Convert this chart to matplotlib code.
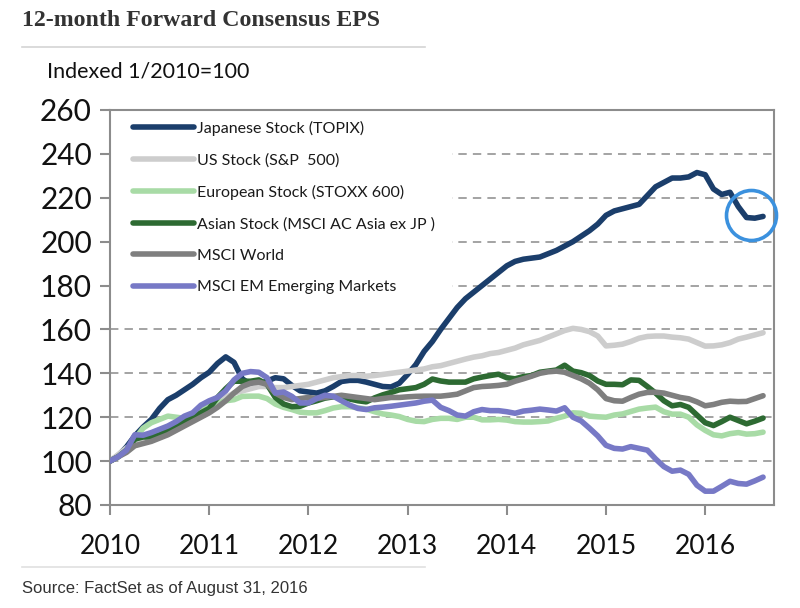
import matplotlib
matplotlib.use("Agg")
import matplotlib.pyplot as plt
import numpy as np
from matplotlib.patches import Rectangle

# ---------------- data ----------------
start_year = 2010
n_months = 80
years = [2010, 2011, 2012, 2013, 2014, 2015, 2016]
y_ticks = [80, 100, 120, 140, 160, 180, 200, 220, 240, 260]

labels = ["Japanese Stock (TOPIX)", "US Stock (S&P  500)", "European Stock (STOXX 600)",
          "Asian Stock (MSCI AC Asia ex JP )", "MSCI World", "MSCI EM Emerging Markets"]

topix = [100, 102.5, 106.5, 111.5, 115.5, 119, 124, 128, 130, 132.5, 135, 138,
         140.5, 144.5, 147.5, 145, 137.5, 135, 135, 136.5, 138, 137.5, 134.5, 132,
         131.5, 131, 132, 134, 136.3, 136.8, 136.8, 136, 135, 134, 133.8, 135.5,
         139.5, 144, 150, 154.5, 160, 165, 170, 174, 177, 180, 183, 186,
         189, 191, 192, 192.5, 193, 194.5, 196, 198, 200, 202.5, 205, 208,
         212, 214, 215, 216, 217, 221, 225, 227, 229, 229, 229.5, 231.5,
         230.5, 224, 221.5, 222.5, 216, 211, 210.7, 211.5]

sp500 = [100, 103, 106, 108, 109, 111, 113, 115, 117, 119, 121, 123,
         125, 127, 129, 131, 132, 133, 134, 134, 133.5, 133.5, 134, 134.5,
         135, 136, 137, 138, 138.5, 139, 139, 138.7, 139, 139.5, 140, 140.5,
         141, 141.5, 142, 143, 143.5, 144.5, 145.5, 146.5, 147.4, 148, 149, 149.5,
         150.5, 151.5, 153, 154, 155, 156.5, 158, 159.5, 160.5, 160, 159, 157,
         152.5, 152.8, 153.3, 154.5, 156, 156.8, 157, 157, 156.5, 156.2, 155.6, 154,
         152.4, 152.5, 153, 154, 155.6, 156.5, 157.5, 158.5]

europe = [100, 102, 105, 110, 115, 117.5, 119, 120.5, 120, 119.5, 121, 123,
          125, 126.5, 127.5, 128, 129.5, 129.6, 129.6, 128.5, 126, 124.5, 123.5, 122.3,
          122, 122, 123, 124.2, 124.8, 124.8, 124.3, 123.7, 122.5, 121.5, 121, 120.3,
          119, 118.2, 118, 119, 119.5, 119.5, 119, 120, 120, 118.8, 118.8, 119,
          118.7, 118, 117.8, 117.8, 118, 118.3, 119.5, 120.5, 122, 121.8, 120.5, 120.2,
          120, 121, 121.5, 122.6, 123.7, 124.2, 124.6, 122.5, 121.4, 121.4, 120, 116.5,
          114, 112, 111.5, 112.5, 113, 112.3, 112.5, 113.2]

asia = [100, 102, 105, 110, 111, 111, 112, 114, 116, 118, 120, 122,
        124, 129, 133, 136.4, 136.4, 136.4, 137, 135, 129, 126, 124.8, 125,
        126.5, 127.5, 128.7, 129.3, 129.3, 128.3, 127.5, 127, 128.8, 130.2, 131.3, 132.5,
        133, 133.5, 135, 137.4, 136.5, 136, 136, 136, 137.5, 138.3, 139, 139.6,
        138, 137.5, 138.5, 139, 140.5, 141, 141.5, 143.7, 141, 140.3, 139, 136.5,
        135, 135, 134.8, 137, 136.8, 134, 131, 127.5, 125.2, 125.8, 124.5, 121,
        117.5, 116.2, 118, 120, 118.5, 117, 118.2, 119.6]

world = [100, 102, 104, 107, 108, 109, 110.5, 112, 114, 116, 118, 120,
         122, 124.5, 127.5, 131, 134, 135.5, 136, 135, 131, 129, 128, 128.5,
         129, 128.5, 129, 129.5, 130, 129.5, 129, 128.5, 128, 128.5, 129, 129,
         129.3, 129.5, 129.6, 129.6, 129.6, 130, 130.5, 132, 133.5, 134, 134.2, 134.5,
         135, 136.4, 137.5, 138.7, 140, 140.7, 141, 140.5, 139, 137.5, 135.5, 132.5,
         128.5, 127.5, 127.3, 129, 130.5, 131.3, 131.4, 131, 130, 129, 128.4, 127,
         125.2, 125.8, 126.8, 127.3, 127.1, 127.2, 128.5, 129.8]

em = [100, 102, 105, 112, 111.8, 113, 114.5, 116, 118, 120.5, 122, 125.5,
      127.5, 129, 132, 137, 140, 140.8, 140.5, 138, 131, 131.5, 129.5, 126.5,
      126.5, 128.5, 130, 129.6, 127.5, 125.5, 124, 123.5, 124.3, 124.6, 125, 125.5,
      126, 126.5, 127.3, 127.8, 124.5, 123, 121, 120.5, 122.5, 123.5, 123, 123,
      122.5, 121.8, 122.8, 123.2, 123.7, 123.3, 122.8, 124.3, 120, 118.3, 115, 111.5,
      107.2, 105.8, 105.5, 106.6, 105.8, 105, 101, 97.5, 95.4, 95.9, 94, 89,
      86.3, 86.3, 88.5, 90.8, 89.8, 89.5, 91, 92.7]

series = [topix, sp500, europe, asia, world, em]
colors = ["#1b3e6b", "#cdcdcd", "#a8dba6", "#2d6a32", "#7f7f7f", "#7779c6"]

x = start_year + np.arange(n_months) / 12.0

# ---------------- figure ----------------
W, H = 800, 608
fig = plt.figure(figsize=(W / 100, H / 100), dpi=100)
ax = fig.add_axes([110 / W, 1 - 505 / H, (774 - 110) / W, (505 - 110) / H])

lw_pt = 4.0
for vals, col, lab in zip(series, colors, labels):
    ax.plot(x, vals, color=col, lw=lw_pt, label=lab, solid_capstyle="round",
            solid_joinstyle="round", zorder=3)

ax.set_xlim(2010, 2010 + (774 - 110) / 99.2)
ax.set_ylim(80, 260)
ax.set_xticks(years)
ax.set_xticklabels([str(y) for y in years])
ax.set_yticks(y_ticks)

# grid
for yv in y_ticks[1:-1]:
    ax.axhline(yv, color="#8a8a8a", lw=1.1, ls=(0, (5.5, 4)), zorder=1)

# white area behind legend hides gridlines
ax.add_patch(Rectangle((0, (505 - 305) / (505 - 110)), (452 - 110) / (774 - 110), 1,
                       transform=ax.transAxes, facecolor="white", edgecolor="none", zorder=2))

for sp in ax.spines.values():
    sp.set_color("#8c8c8c")
    sp.set_linewidth(1.5)

ax.tick_params(axis="y", direction="out", length=7, width=1.5, color="#8c8c8c",
               pad=6, labelsize=21.5, labelcolor="#111111")
ax.tick_params(axis="x", direction="out", length=7, width=1.5, color="#8c8c8c",
               pad=14, labelsize=19, labelcolor="#111111")
for t in ax.get_yticklabels() + ax.get_xticklabels():
    t.set_fontfamily("Lato")

leg = ax.legend(loc="upper left", bbox_to_anchor=((133 - 110) / 664, (505 - 121) / 395),
                frameon=False, borderpad=0, borderaxespad=0, handlelength=3.8,
                handletextpad=0.2, labelspacing=1.08,
                prop={"family": "Lato", "size": 11.5})
for t in leg.get_texts():
    t.set_color("#1a1a1a")
for h in leg.get_lines():
    h.set_linewidth(lw_pt)

# highlight circle around latest TOPIX values
cx = float(np.mean(x[-4:]))
cy = float(np.mean(topix[-4:]))
ax.plot([cx], [cy], marker="o", markersize=36, markerfacecolor="none",
        markeredgecolor="#3b91de", markeredgewidth=2.6, zorder=5, clip_on=False)

# texts
fig.text(22 / W, 1 - 20 / H, "12-month Forward Consensus EPS", fontsize=17.2,
         fontweight="bold", family="Liberation Serif", color="#333333", va="center", ha="left")
fig.add_artist(plt.Line2D([22 / W, 425 / W], [1 - 47 / H, 1 - 47 / H], color="#d4d4d4", lw=1.2))
fig.text(47 / W, 1 - 72 / H, "Indexed 1/2010=100", fontsize=15.5, family="Lato",
         color="#111111", va="center", ha="left")
fig.add_artist(plt.Line2D([22 / W, 425 / W], [1 - 567 / H, 1 - 567 / H], color="#e0e0e0", lw=1.2))
fig.text(22 / W, 1 - 589 / H, "Source: FactSet as of August 31, 2016", fontsize=12,
         family=["Liberation Sans Narrow", "Liberation Sans"], color="#333333",
         va="center", ha="left")

fig.savefig("out.png", dpi=100)
